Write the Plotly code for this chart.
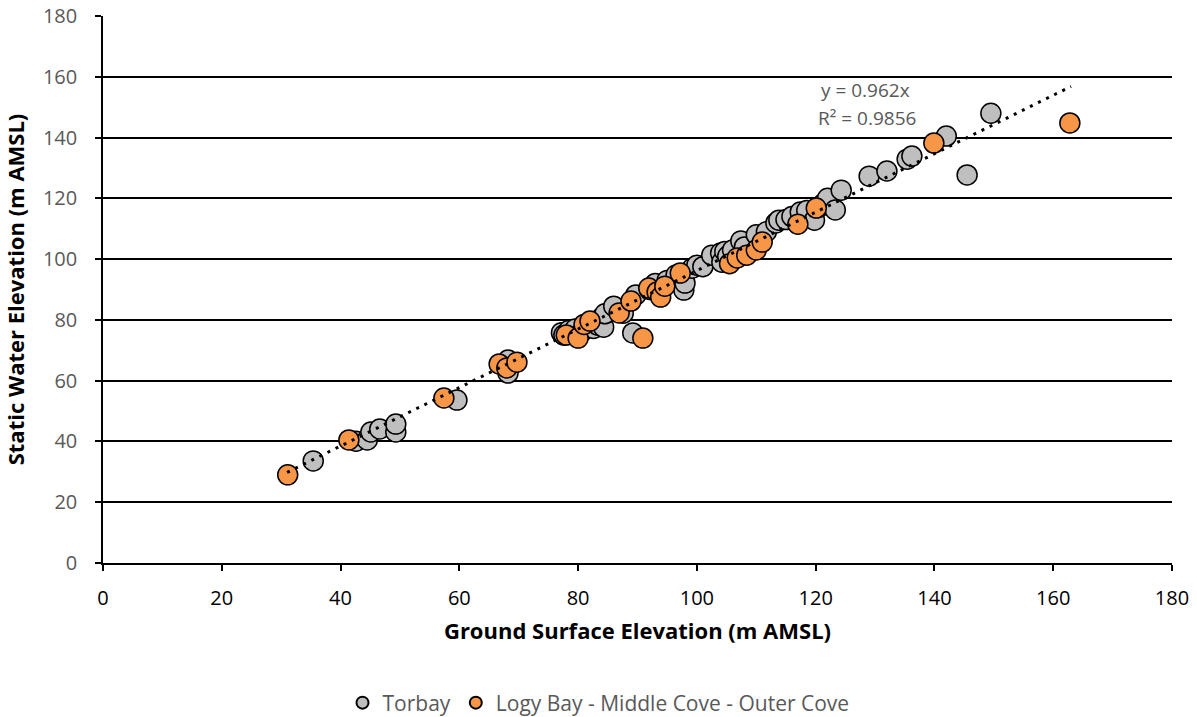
import plotly.graph_objects as go

# Torbay (gray)
torbay_x = [35.4, 42.6, 44.5, 45.1, 46.6, 49.3, 49.3, 59.6, 68.2, 68.2,
            77.2, 77.6, 78.4, 79.5, 80.7, 81.3, 82.6, 83.3, 84.0, 84.3,
            84.5, 86.0, 87.6, 89.2, 89.7, 92.0, 93.0, 95.0, 96.5, 97.8,
            98.0, 99.2, 100.0, 101.0, 102.5, 104.0, 104.2, 104.7, 105.2, 106.0,
            107.4, 108.0, 110.0, 111.7, 113.3, 113.8, 115.0, 116.0, 117.4, 118.5,
            119.8, 120.5, 121.2, 122.0, 123.3, 124.3, 129.0, 132.0, 135.4, 136.2,
            142.0, 145.5, 149.5]
torbay_y = [33.6, 40.1, 40.5, 43.1, 44.1, 43.1, 45.7, 53.6, 66.8, 62.5,
            75.8, 75.0, 76.5, 77.0, 76.2, 78.0, 77.2, 78.3, 80.8, 77.6,
            82.0, 84.5, 82.2, 75.7, 88.2, 90.0, 92.0, 93.0, 94.8, 89.8,
            92.1, 97.0, 98.0, 97.5, 101.3, 102.0, 99.0, 102.5, 101.0, 103.0,
            106.0, 104.0, 108.0, 109.0, 111.9, 112.8, 113.0, 114.0, 115.5, 116.0,
            112.8, 117.0, 118.1, 120.0, 116.2, 122.7, 127.3, 129.0, 132.9, 133.9,
            140.5, 127.7, 148.0]

# Logy Bay - Middle Cove - Outer Cove (orange)
logy_x = [31.1, 41.4, 57.4, 66.7, 68.0, 69.7, 78.0, 80.0, 81.0, 82.0,
          86.9, 88.9, 90.9, 91.9, 93.3, 93.9, 94.6, 97.2, 105.5, 106.8,
          108.4, 110.0, 111.0, 117.0, 120.1, 139.9, 162.8]
logy_y = [29.0, 40.5, 54.3, 65.5, 64.2, 66.1, 75.0, 74.0, 78.5, 79.6,
          82.3, 86.2, 74.0, 90.5, 89.2, 87.5, 91.1, 95.4, 98.5, 100.4,
          101.3, 103.0, 105.6, 111.5, 116.8, 138.2, 144.8]

trend_slope = 0.962
trend_x = [31.0, 163.0]
trend_label = ["y = 0.962x", "R² = 0.9856"]

x_ticks = [0, 20, 40, 60, 80, 100, 120, 140, 160, 180]
y_ticks = [0, 20, 40, 60, 80, 100, 120, 140, 160, 180]

FONT = "Open Sans"
fig = go.Figure()
fig.add_trace(go.Scatter(
    x=torbay_x, y=torbay_y, mode="markers", name="Torbay",
    marker=dict(size=20, color="#BFBFBF", line=dict(color="#000000", width=1.5))))
fig.add_trace(go.Scatter(
    x=logy_x, y=logy_y, mode="markers", name="Logy Bay - Middle Cove - Outer Cove",
    marker=dict(size=20, color="#F79646", line=dict(color="#000000", width=1.5))))
fig.add_trace(go.Scatter(
    x=trend_x, y=[trend_slope * v for v in trend_x], mode="lines", showlegend=False,
    line=dict(color="#000000", width=3, dash="3px,6px"), hoverinfo="skip"))

fig.add_annotation(x=128.4, y=155.5, xref="x", yref="y", text=trend_label[0],
                   showarrow=False, font=dict(family=FONT, size=19, color="#595959"))
fig.add_annotation(x=128.7, y=146.4, xref="x", yref="y", text=trend_label[1],
                   showarrow=False, font=dict(family=FONT, size=19, color="#595959"))

fig.update_layout(
    width=1197, height=717,
    margin=dict(l=103, r=25, t=16, b=154),
    paper_bgcolor="white", plot_bgcolor="white",
    font=dict(family=FONT),
    legend=dict(orientation="h", x=0.5, xanchor="center", xref="container",
                y=(717 - 703) / 717, yanchor="middle", yref="container",
                font=dict(family=FONT, size=21, color="#595959"), itemsizing="constant",
                itemwidth=30, traceorder="normal"),
    xaxis=dict(range=[0, 180], tickvals=x_ticks, showgrid=False, zeroline=False,
               automargin=False,
               showline=True, linecolor="#000000", linewidth=1.5,
               ticks="outside", ticklen=6, tickcolor="#000000", tickwidth=1.5,
               ticklabelstandoff=10,
               tickfont=dict(family=FONT, size=20, color="#000000"),
               title=dict(text="<b>Ground Surface Elevation (m AMSL)</b>",
                          font=dict(family=FONT, size=22, color="#000000"), standoff=14)),
    yaxis=dict(range=[0, 180], tickvals=y_ticks, showgrid=True, gridcolor="#000000",
               gridwidth=1.5, zeroline=False, automargin=False,
               showline=True, linecolor="#000000", linewidth=1.5,
               ticks="outside", ticklen=6, tickcolor="#000000", tickwidth=1.5,
               ticklabelstandoff=14,
               tickfont=dict(family=FONT, size=20, color="#595959"),
               title=dict(text="<b>Static Water Elevation (m AMSL)</b>",
                          font=dict(family=FONT, size=22, color="#000000"), standoff=12)),
)

fig.write_html("out.html")
